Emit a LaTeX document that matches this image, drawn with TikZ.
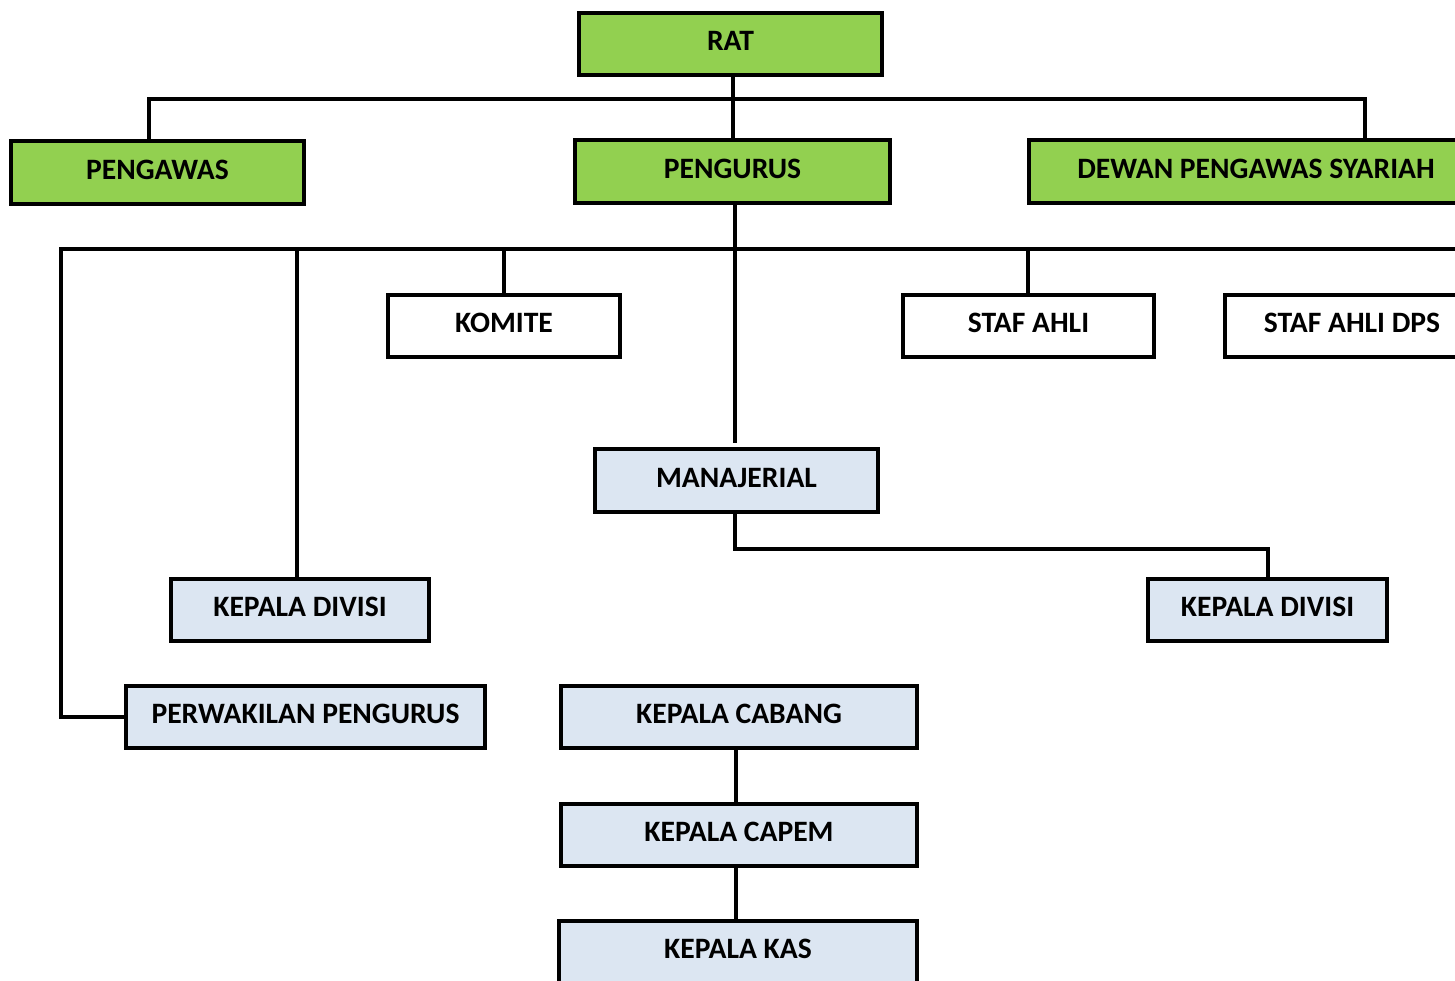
\documentclass[tikz,border=0pt]{standalone}
\usepackage{fontspec}
\setmainfont{Carlito}
\definecolor{gfill}{HTML}{92D050}
\definecolor{bfill}{HTML}{DCE6F2}
\tikzset{
  box/.style={draw=black, line width=4pt, rectangle, inner sep=0pt,
    font=\fontsize{29.6}{34}\selectfont\bfseries, text depth=6pt},
  gbox/.style={box, fill=gfill},
  wbox/.style={box, fill=white},
  bbox/.style={box, fill=bfill},
  conn/.style={draw=black, line width=4pt, line join=miter}
}
\begin{document}
\begin{tikzpicture}[x=1pt,y=1pt]
\useasboundingbox (0,0) rectangle (1455,-981);
% top
\node[gbox, minimum width=303pt, minimum height=62pt] (rat) at (730.5,-44) {RAT};
\node[gbox, minimum width=293pt, minimum height=63pt] (pengawas) at (157.5,-172.5) {PENGAWAS};
\node[gbox, minimum width=315pt, minimum height=63pt] (pengurus) at (732.5,-171.5) {PENGURUS};
\node[gbox, minimum width=454pt, minimum height=63pt] (dewan) at (1256,-171.5) {DEWAN PENGAWAS SYARIAH};
% second row
\node[wbox, minimum width=232pt, minimum height=62pt] (komite) at (504,-326) {KOMITE};
\node[wbox, minimum width=251pt, minimum height=62pt] (stafahli) at (1028.5,-326) {STAF AHLI};
\node[wbox, minimum width=254pt, minimum height=62pt] (stafdps) at (1352,-326) {STAF AHLI DPS};
% blue
\node[bbox, minimum width=283pt, minimum height=63pt] (manajerial) at (736.5,-480.5) {MANAJERIAL};
\node[bbox, minimum width=258pt, minimum height=62pt] (kdleft) at (300,-610) {KEPALA DIVISI};
\node[bbox, minimum width=239pt, minimum height=62pt] (kdright) at (1267.5,-610) {KEPALA DIVISI};
\node[bbox, minimum width=359pt, minimum height=62pt] (perwakilan) at (305.5,-717) {PERWAKILAN PENGURUS};
\node[bbox, minimum width=356pt, minimum height=62pt] (cabang) at (739,-717) {KEPALA CABANG};
\node[bbox, minimum width=356pt, minimum height=62pt] (capem) at (739,-835) {KEPALA CAPEM};
\node[bbox, minimum width=358pt, minimum height=62pt] (kas) at (738,-952) {KEPALA KAS};
% connectors
\coordinate (bus1l) at (149,-99);
\coordinate (bus1r) at (1365,-99);
\coordinate (bus2l) at (61,-249);
\coordinate (bus2r) at (1460,-249);
\draw[conn] (bus1l |- pengawas.north) -- (bus1l) -- (bus1r) -- (bus1r |- dewan.north);
\draw[conn] (733,0 |- rat.south) -- (733,0 |- pengurus.north);
\draw[conn] (735,0 |- pengurus.south) -- ([yshift=4pt]735,0 |- manajerial.north);
\draw[conn] (perwakilan.west) -| (bus2l) -- (bus2r);
\draw[conn] (297,-249) -- (297,0 |- kdleft.north);
\draw[conn] (504,-249) -- (504,0 |- komite.north);
\draw[conn] (1028,-249) -- (1028,0 |- stafahli.north);
\draw[conn] (735,0 |- manajerial.south) |- (1268,-549) -- (1268,0 |- kdright.north);
\draw[conn] (736,0 |- cabang.south) -- (736,0 |- capem.north);
\draw[conn] (736,0 |- capem.south) -- (736,0 |- kas.north);
\end{tikzpicture}
\end{document}
